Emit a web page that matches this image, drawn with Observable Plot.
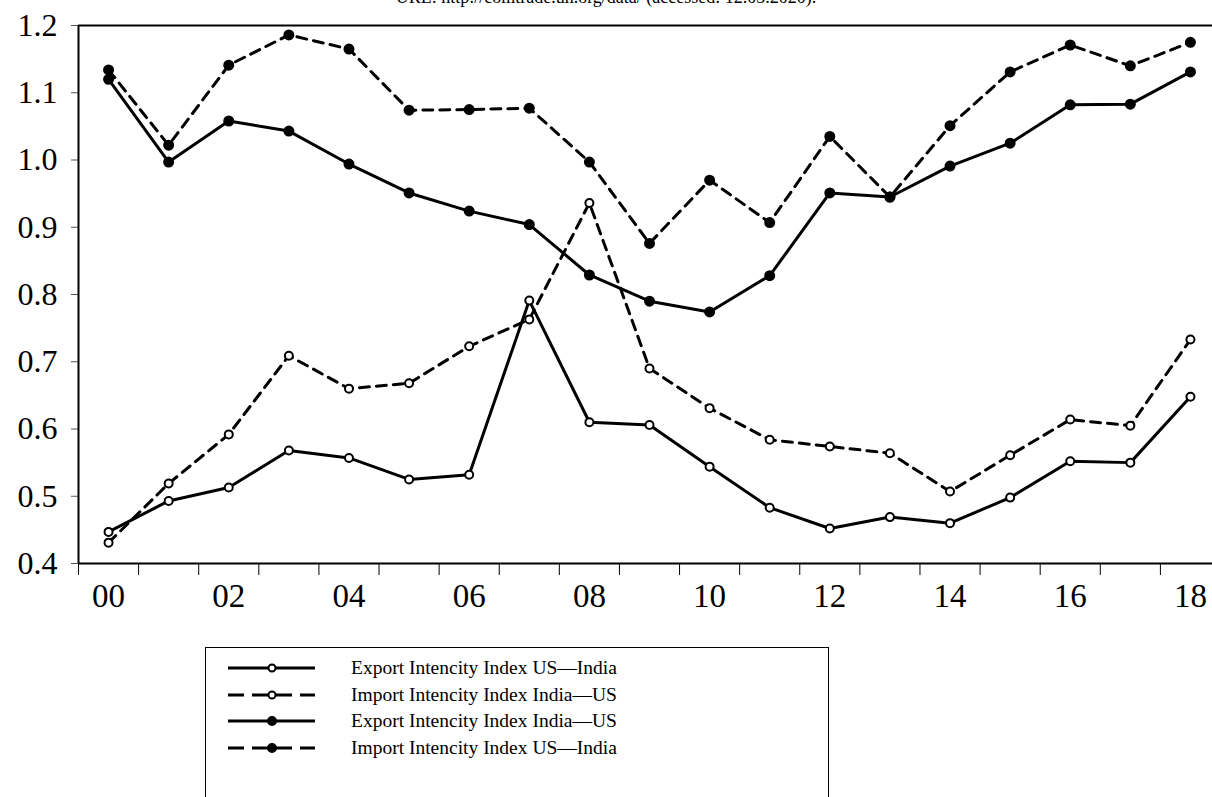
<!DOCTYPE html>
<html>
<head>
<meta charset="utf-8">
<script src="https://cdn.jsdelivr.net/npm/d3@7"></script>
<script src="https://cdn.jsdelivr.net/npm/@observablehq/plot@0.6"></script>
<style>
  html, body { margin: 0; padding: 0; background: #fff; overflow: hidden; width: 1212px; height: 797px; }
  #wrap { position: relative; width: 1212px; height: 797px; font-family: "Liberation Serif", "Times New Roman", serif; }
  #title { position: absolute; top: -13px; left: 0; width: 1212px; text-align: center; font-size: 18px; color: #000; }
  #chart { position: absolute; top: 0; left: 0; }
  #legend { position: absolute; left: 205px; top: 647px; width: 624px; height: 200px; border: 1.5px solid #000; box-sizing: border-box; }
  .row { position: absolute; left: 0; height: 26px; width: 600px; }
  .row svg { position: absolute; left: 18px; top: 0; }
  .row span { position: absolute; left: 145px; top: 1px; font-size: 19.5px; line-height: 24px; color: #000; white-space: nowrap; }
</style>
</head>
<body>
<div id="wrap">
  <div id="title">URL: http://comtrade.un.org/data/ (accessed: 12.03.2020).</div>
  <div id="chart"></div>
  <div id="legend"></div>
</div>
<script>
const years = [2000,2001,2002,2003,2004,2005,2006,2007,2008,2009,2010,2011,2012,2013,2014,2015,2016,2017,2018];
const exportUSIndia = [0.447,0.493,0.513,0.568,0.557,0.525,0.532,0.791,0.610,0.606,0.544,0.483,0.452,0.469,0.460,0.498,0.552,0.550,0.648];
const importIndiaUS = [0.431,0.519,0.592,0.709,0.660,0.668,0.723,0.763,0.936,0.690,0.631,0.584,0.574,0.564,0.507,0.561,0.614,0.605,0.733];
const exportIndiaUS = [1.120,0.997,1.058,1.043,0.994,0.951,0.924,0.904,0.829,0.790,0.774,0.828,0.951,0.945,0.991,1.025,1.082,1.083,1.131];
const importUSIndia = [1.134,1.022,1.141,1.186,1.165,1.074,1.075,1.077,0.997,0.876,0.970,0.907,1.035,0.945,1.051,1.131,1.171,1.140,1.175];
const seriesNames = [
  "Export Intencity Index US\u2014India",
  "Import Intencity Index India\u2014US",
  "Export Intencity Index India\u2014US",
  "Import Intencity Index US\u2014India"
];
const yTicks = [0.4,0.5,0.6,0.7,0.8,0.9,1.0,1.1,1.2];
const xLabelYears = [2000,2002,2004,2006,2008,2010,2012,2014,2016,2018];
const xTickLabels = ["00","02","04","06","08","10","12","14","16","18"];

const seriesDefs = [
  {name: seriesNames[0], values: exportUSIndia, dashed: false, filled: false},
  {name: seriesNames[1], values: importIndiaUS, dashed: true, filled: false},
  {name: seriesNames[2], values: exportIndiaUS, dashed: false, filled: true},
  {name: seriesNames[3], values: importUSIndia, dashed: true, filled: true}
];

const dash = "10,7";
const boundaries = years.map(y => y - 0.5);

const marks = [
  Plot.axisY({ticks: yTicks, tickSize: 7, tickPadding: 14, tickFormat: d => d.toFixed(1), fontSize: 32, strokeWidth: 1, stroke: "#555", label: null}),
  Plot.axisX({ticks: boundaries, tickSize: 12, tickFormat: () => "", stroke: "#000", strokeWidth: 1, label: null}),
  Plot.axisX({ticks: xLabelYears, tickSize: 0, tickPadding: 20, tickFormat: d => xTickLabels[xLabelYears.indexOf(d)], fontSize: 33, label: null}),
  Plot.ruleX([1999.5], {stroke: "#000", strokeWidth: 2}),
  Plot.ruleY([0.4], {stroke: "#000", strokeWidth: 2}),
  Plot.ruleY([1.2], {stroke: "#000", strokeWidth: 2})
];
for (const s of seriesDefs) {
  const data = years.map((y, i) => ({year: y, value: s.values[i]}));
  marks.push(Plot.line(data, {x: "year", y: "value", stroke: "#000", strokeWidth: 3, strokeDasharray: s.dashed ? dash : null}));
}
for (const s of seriesDefs) {
  const data = years.map((y, i) => ({year: y, value: s.values[i]}));
  marks.push(Plot.dot(data, {x: "year", y: "value", r: s.filled ? 4.5 : 4, fill: s.filled ? "#000" : "#fff", stroke: "#000", strokeWidth: 2}));
}

const chart = Plot.plot({
  width: 1212,
  height: 640,
  marginLeft: 78,
  marginRight: -8,
  marginTop: 25,
  marginBottom: 77,
  style: {fontFamily: "Liberation Serif, serif", color: "#000", background: "transparent", overflow: "visible"},
  x: {domain: [1999.5, 2018.5], axis: null},
  y: {domain: [0.4, 1.2], axis: null},
  marks
});
document.getElementById("chart").appendChild(chart);

// legend
const legend = document.getElementById("legend");
seriesDefs.forEach((s, i) => {
  const row = document.createElement("div");
  row.className = "row";
  row.style.top = (7 + i * 26.7) + "px";
  const ns = "http://www.w3.org/2000/svg";
  const svg = document.createElementNS(ns, "svg");
  svg.setAttribute("width", "100");
  svg.setAttribute("height", "26");
  const line = document.createElementNS(ns, "line");
  line.setAttribute("x1", "4"); line.setAttribute("x2", "91");
  line.setAttribute("y1", "13"); line.setAttribute("y2", "13");
  line.setAttribute("stroke", "#000"); line.setAttribute("stroke-width", "3");
  if (s.dashed) line.setAttribute("stroke-dasharray", "16,8");
  svg.appendChild(line);
  const c = document.createElementNS(ns, "circle");
  c.setAttribute("cx", "48"); c.setAttribute("cy", "13"); c.setAttribute("r", s.filled ? "4" : "3.5");
  c.setAttribute("fill", s.filled ? "#000" : "#fff");
  c.setAttribute("stroke", "#000"); c.setAttribute("stroke-width", "2");
  svg.appendChild(c);
  row.appendChild(svg);
  const sp = document.createElement("span");
  sp.textContent = s.name;
  row.appendChild(sp);
  legend.appendChild(row);
});
</script>
</body>
</html>
